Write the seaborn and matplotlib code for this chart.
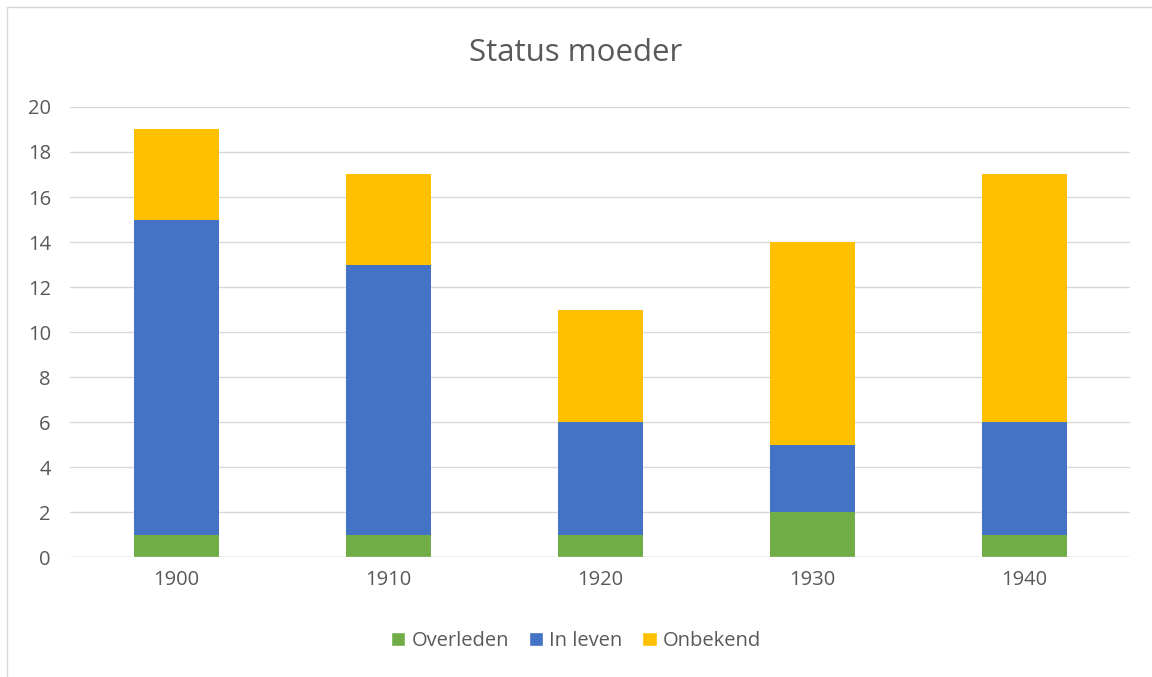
import matplotlib
matplotlib.use("Agg")
import matplotlib.pyplot as plt
from matplotlib.patches import Patch
import seaborn as sns
import pandas as pd

jaren = ["1900", "1910", "1920", "1930", "1940"]
overleden = [1, 1, 1, 2, 1]
in_leven = [14, 12, 5, 3, 5]
onbekend = [4, 4, 5, 9, 11]

kleuren = {"Overleden": "#70AD47", "In leven": "#4472C4", "Onbekend": "#FFC000"}
tekst = "#595959"

sns.set_style("white")
plt.rcParams["font.family"] = ["Open Sans", "DejaVu Sans"]

df = pd.DataFrame({"Jaar": jaren, "Overleden": overleden,
                   "In leven": in_leven, "Onbekend": onbekend})
# cumulatieve hoogtes voor gestapelde staven
df["top_onbekend"] = df["Overleden"] + df["In leven"] + df["Onbekend"]
df["top_leven"] = df["Overleden"] + df["In leven"]

fig = plt.figure(figsize=(11.52, 6.77), dpi=100)
ax = fig.add_axes([0.061, 0.177, 0.92, 0.665])

for kol, naam in [("top_onbekend", "Onbekend"), ("top_leven", "In leven"),
                  ("Overleden", "Overleden")]:
    sns.barplot(x="Jaar", y=kol, data=df, color=kleuren[naam], width=0.4,
                saturation=1, ax=ax, zorder=3, edgecolor="none", linewidth=0)

ax.set_ylim(0, 20)
ax.set_xlim(-0.5, 4.5)
ax.set_yticks(range(0, 21, 2))
ax.yaxis.grid(True, color="#D9D9D9", linewidth=1, zorder=0)
ax.set_axisbelow(True)
ax.axhline(0, color="#D9D9D9", linewidth=1, zorder=4)
for s in ax.spines.values():
    s.set_visible(False)
ax.set_xlabel("")
ax.set_ylabel("")
ax.tick_params(axis="both", length=0, labelsize=14.5, colors=tekst, pad=9)
ax.tick_params(axis="y", pad=14)

fig.text(0.5, 0.922, "Status moeder", ha="center", va="center",
         fontsize=22.5, color=tekst)

handles = [Patch(facecolor=kleuren[k], label=k) for k in kleuren]
fig.legend(handles=handles, loc="center", bbox_to_anchor=(0.5, 0.053), ncol=3,
           frameon=False, fontsize=14.5, labelcolor=tekst, handlelength=0.7,
           handleheight=0.7, handletextpad=0.3, columnspacing=1.0)

# lichte rand rond de grafiek
fig.add_artist(plt.Rectangle((0.006, -0.01), 1.1, 1.0, transform=fig.transFigure,
                             fill=False, edgecolor="#D9D9D9", linewidth=1))

fig.savefig("out.png", dpi=100)
